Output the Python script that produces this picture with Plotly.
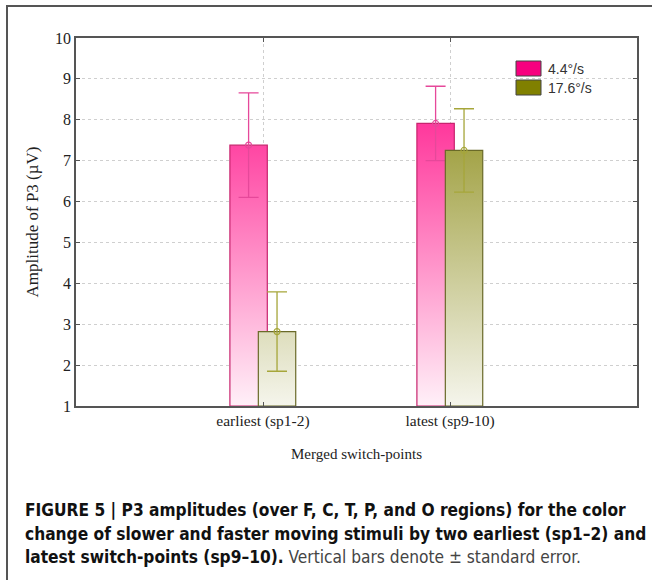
import plotly.graph_objects as go

# ---- data ----
categories = ["earliest (sp1-2)", "latest (sp9-10)"]
series_names = ["4.4°/s", "17.6°/s"]
slow_mean = [7.38, 7.91]
slow_se = [1.28, 0.91]
fast_mean = [2.82, 7.25]
fast_se = [0.97, 1.02]
y_ticks = [1, 2, 3, 4, 5, 6, 7, 8, 9, 10]

# ---- layout geometry (pixels) ----
W, H = 652, 580
L, R, T, B = 76, 637, 38, 406
PW, PH = R - L, B - T


def pxx(p):
    return (p - L) / PW


def pxy(p):
    return (B - p) / PH


BASE = 1
BAR_W = 0.2
series = [
    dict(name=series_names[0], mean=slow_mean, se=slow_se, off=-0.077,
         scale=[[0, "#fff0f8"], [1, "#ff0080"]], edge="#c8246e",
         err="#e6489a", swatch="#f7007f"),
    dict(name=series_names[1], mean=fast_mean, se=fast_se, off=0.075,
         scale=[[0, "#f5f5ec"], [1, "#808000"]], edge="#6a6a28",
         err="#a6a63a", swatch="#808000"),
]

fig = go.Figure()
xs = list(range(len(categories)))
for s in series:
    for i, v in enumerate(s["mean"]):
        c = xs[i] + s["off"]
        x0, x1 = c - BAR_W / 2, c + BAR_W / 2
        fig.add_trace(go.Scatter(
            x=[x0, x0, x1, x1, x0], y=[BASE, v, v, BASE, BASE],
            mode="lines", fill="toself",
            fillgradient=dict(type="vertical", colorscale=s["scale"],
                              start=min(y_ticks), stop=max(y_ticks)),
            line=dict(color=s["edge"], width=1.2),
            hoverinfo="skip", showlegend=False))
    fig.add_trace(go.Scatter(
        x=[xi + s["off"] for xi in xs], y=s["mean"], mode="markers",
        marker=dict(symbol="circle-open", size=6, color=s["err"],
                    line=dict(width=1.2, color=s["err"])),
        error_y=dict(type="data", array=s["se"], color=s["err"],
                     thickness=1.3, width=10),
        name=s["name"], showlegend=False))

serif = "Liberation Serif, Times New Roman, serif"
axis_common = dict(showline=True, linecolor="#555", linewidth=1.5,
                   mirror="ticks", ticks="inside", ticklen=4,
                   tickcolor="#555", showgrid=True, gridcolor="#cfcfcf",
                   griddash="3px,3px", gridwidth=1, zeroline=False)

fig.update_layout(
    width=W, height=H,
    margin=dict(l=L, r=W - R, t=T, b=H - B),
    paper_bgcolor="white", plot_bgcolor="white",
    showlegend=False,
    xaxis=dict(range=[-1, 2], tickvals=xs, ticktext=categories,
               tickfont=dict(family=serif, size=15.5, color="#222"),
               title=dict(text="Merged switch-points",
                          font=dict(family=serif, size=15, color="#222"),
                          standoff=19),
               **axis_common),
    yaxis=dict(range=[min(y_ticks), max(y_ticks)], tickvals=y_ticks,
               tickfont=dict(family=serif, size=16, color="#222"),
               title=dict(text="Amplitude of P3 (µV)",
                          font=dict(family=serif, size=17, color="#222"),
                          standoff=12),
               **axis_common),
)

# outer figure frame
fig.add_shape(type="rect", xref="paper", yref="paper",
              x0=pxx(7), x1=pxx(W + 20), y0=pxy(H + 20), y1=pxy(6),
              line=dict(color="#555", width=2), fillcolor="rgba(0,0,0,0)",
              layer="below")

# legend (manual)
sw_tops = [61, 80]
for s, top in zip(series, sw_tops):
    fig.add_shape(type="rect", xref="paper", yref="paper",
                  x0=pxx(516), x1=pxx(541), y0=pxy(top + 15), y1=pxy(top),
                  fillcolor=s["swatch"], line=dict(color="#444", width=1))
    fig.add_annotation(xref="paper", yref="paper", x=pxx(546),
                       y=pxy(top + 8), xanchor="left", yanchor="middle",
                       text=s["name"], showarrow=False,
                       font=dict(family="Liberation Sans, Arial", size=14,
                                 color="#333"))

# caption
cap_font = "DejaVu Sans Condensed, Liberation Sans Narrow, Liberation Sans"
cap_lines = [
    "<b>FIGURE 5 | P3 amplitudes (over F, C, T, P, and O regions) for the color</b>",
    "<b>change of slower and faster moving stimuli by two earliest (sp1–2) and</b>",
    "<b>latest switch-points (sp9–10).</b> <span style='color:#444'>Vertical bars denote ± standard error.</span>",
]
for line, yc in zip(cap_lines, [510, 533.5, 557]):
    fig.add_annotation(xref="paper", yref="paper", x=pxx(23), y=pxy(yc),
                       xanchor="left", yanchor="middle", text=line,
                       showarrow=False,
                       font=dict(family=cap_font, size=17.2, color="#111"))

fig.write_html("out.html",
               config={"displayModeBar": False},
               post_script="document.body.style.margin='0';"
                           "document.body.style.overflow='hidden';")
